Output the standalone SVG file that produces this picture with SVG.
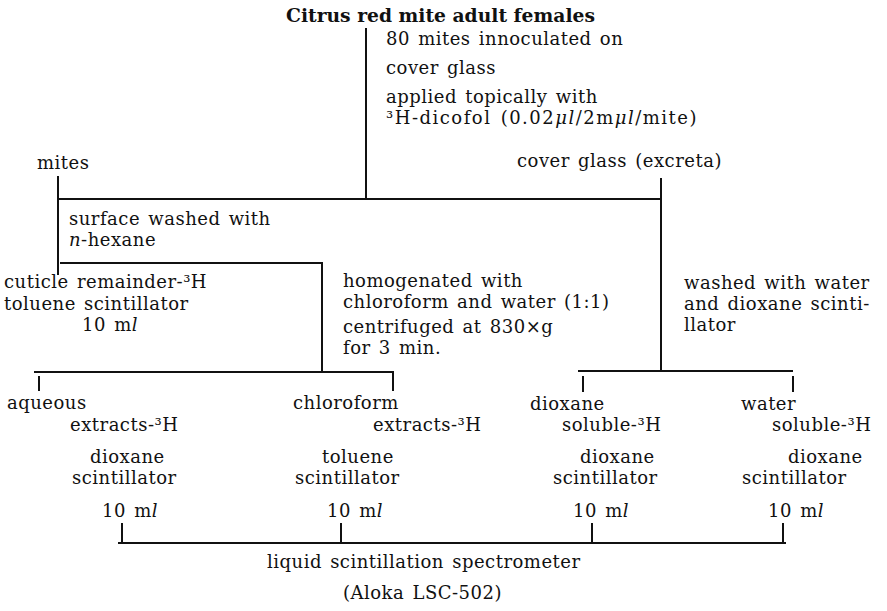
<svg xmlns="http://www.w3.org/2000/svg" width="887" height="611" viewBox="0 0 887 611">
<style>
text{font-family:"DejaVu Serif","Liberation Serif",serif;font-size:18px;fill:#111;letter-spacing:0.5px;word-spacing:2px}
.t{font-weight:bold;font-size:19px;letter-spacing:0;word-spacing:0}
.c line{stroke:#111;stroke-width:2}
.i{font-style:italic}
</style>
<rect width="887" height="611" fill="#fff"/>
<g class="c" id="connectors">
<line x1="366" y1="28" x2="366" y2="199"/>
<line x1="58" y1="199" x2="661" y2="199"/>
<line x1="58" y1="176" x2="58" y2="275"/>
<line x1="661" y1="178" x2="661" y2="372"/>
<line x1="60" y1="263" x2="323" y2="263"/>
<line x1="322" y1="263" x2="322" y2="372"/>
<line x1="34" y1="372" x2="394" y2="372"/>
<line x1="39" y1="376" x2="39" y2="391"/>
<line x1="393" y1="372" x2="393" y2="391"/>
<line x1="578" y1="371" x2="793" y2="371"/>
<line x1="583" y1="376" x2="583" y2="392"/>
<line x1="793" y1="376" x2="793" y2="392"/>
<line x1="118" y1="543" x2="786" y2="543"/>
<line x1="122" y1="523" x2="122" y2="543"/>
<line x1="341" y1="523" x2="341" y2="543"/>
<line x1="592" y1="523" x2="592" y2="543"/>
<line x1="783" y1="523" x2="783" y2="543"/>
</g>
<g id="n-title"><text class="t" x="286" y="22" textLength="309" lengthAdjust="spacingAndGlyphs">Citrus red mite adult females</text></g>
<g id="n-application">
<text x="386" y="45">80 mites innoculated on</text>
<text x="386" y="74">cover glass</text>
<text x="386" y="103">applied topically with</text>
<text x="386" y="124" textLength="311">³H-dicofol (0.02<tspan class="i">μl</tspan>/2m<tspan class="i">μl</tspan>/mite)</text>
</g>
<g id="n-mites"><text x="37" y="169">mites</text></g>
<g id="n-coverglass"><text x="517" y="167">cover glass (excreta)</text></g>
<g id="n-hexane">
<text x="69" y="225">surface washed with</text>
<text x="69" y="246"><tspan class="i">n</tspan>-hexane</text>
</g>
<g id="n-cuticle">
<text x="4" y="288">cuticle remainder-³H</text>
<text x="4" y="310">toluene scintillator</text>
<text x="82" y="331">10 m<tspan class="i">l</tspan></text>
</g>
<g id="n-homogenate">
<text x="343" y="287">homogenated with</text>
<text x="343" y="308">chloroform and water (1:1)</text>
<text x="343" y="333">centrifuged at 830×g</text>
<text x="343" y="354">for 3 min.</text>
</g>
<g id="n-wash">
<text x="684" y="289">washed with water</text>
<text x="684" y="310">and dioxane scinti-</text>
<text x="684" y="331">llator</text>
</g>
<g id="n-aqueous">
<text x="7" y="409">aqueous</text>
<text x="70" y="431">extracts-³H</text>
<text x="90" y="463">dioxane</text>
<text x="72" y="484">scintillator</text>
<text x="102" y="517">10 m<tspan class="i">l</tspan></text>
</g>
<g id="n-chloroform">
<text x="293" y="409">chloroform</text>
<text x="373" y="431">extracts-³H</text>
<text x="322" y="463">toluene</text>
<text x="295" y="484">scintillator</text>
<text x="327" y="517">10 m<tspan class="i">l</tspan></text>
</g>
<g id="n-dioxane">
<text x="530" y="410">dioxane</text>
<text x="562" y="431">soluble-³H</text>
<text x="580" y="463">dioxane</text>
<text x="553" y="484">scintillator</text>
<text x="573" y="517">10 m<tspan class="i">l</tspan></text>
</g>
<g id="n-water">
<text x="741" y="410">water</text>
<text x="772" y="431">soluble-³H</text>
<text x="788" y="463">dioxane</text>
<text x="742" y="484">scintillator</text>
<text x="768" y="517">10 m<tspan class="i">l</tspan></text>
</g>
<g id="n-lsc">
<text x="267" y="568">liquid scintillation spectrometer</text>
<text x="343" y="599">(Aloka LSC-502)</text>
</g>
</svg>
